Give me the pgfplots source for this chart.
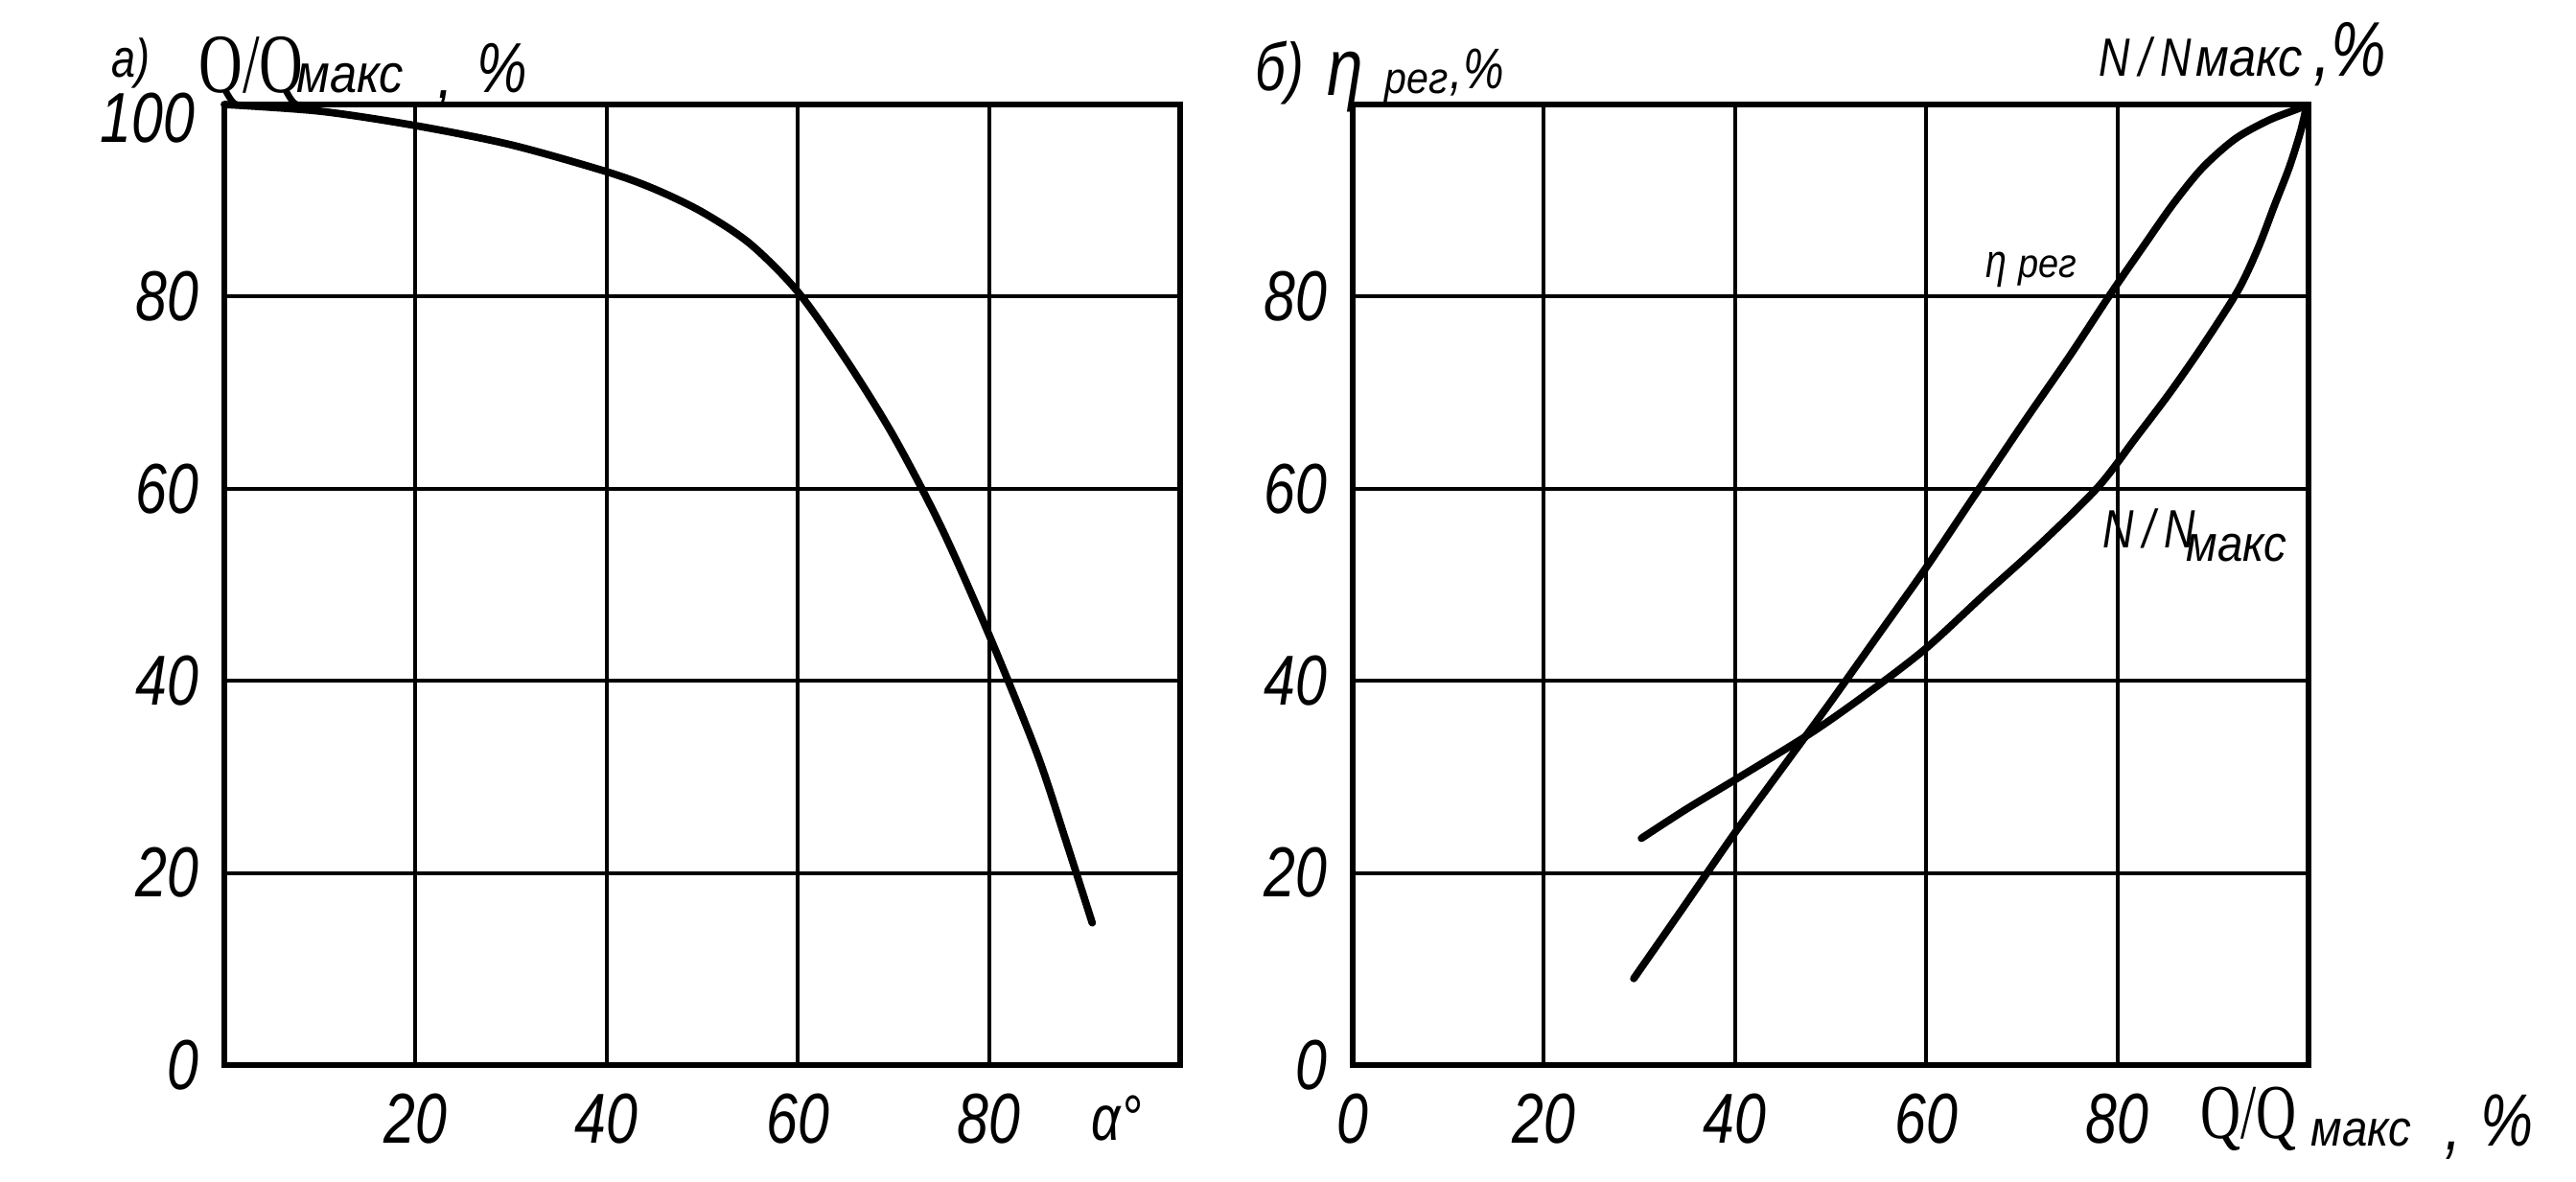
\documentclass[border=0pt]{standalone}
\usepackage{fontspec}
\setmainfont{Liberation Sans}
\newfontfamily\hand[FakeStretch=0.8]{Liberation Sans}
\newfontfamily\handw[FakeStretch=0.9]{Liberation Sans}
\newfontfamily\serifQ[FakeStretch=0.72]{Liberation Serif}
\usepackage{pgfplots}
\pgfplotsset{compat=1.18}
\newcommand\hf[1]{\hand\itshape\fontsize{#1}{#1}\selectfont}
\newcommand\hw[1]{\handw\itshape\fontsize{#1}{#1}\selectfont}
\newcommand\sq[1]{\serifQ\fontsize{#1}{#1}\selectfont}

\pgfplotstableread{
x y
0 100
10 99.3
20 97.8
30 95.8
40 93.0
45 91.2
50 88.8
55 85.5
60 80.5
65 73.5
70 65.5
75 56
80 44.8
85 32.5
88 23.5
90.8 14.8
}\tabQ

\pgfplotstableread{
x y
29.4 9
35 17
40 24.2
45 31
50 37.8
55 44.8
60 51.8
65 59.2
70 66.6
75 73.8
79.3 80.3
82.7 85.2
85.8 89.6
88.9 93.4
92.3 96.4
95.7 98.3
98.5 99.4
99.8 99.9
}\tabEta

\pgfplotstableread{
x y
30.2 23.6
35 26.7
40.5 30.0
48 34.6
54 38.8
60 43.4
66 48.9
72 54.3
78 60.2
82 65.4
85.5 70.0
89 75.0
92.6 80.6
94.7 85
96.4 89.4
98 93.5
99.2 97.3
99.8 99.9
}\tabN

\pgfplotsset{
  panel/.style={
    scale only axis, width=9.97cm, height=10.02cm,
    xmin=0, xmax=100, ymin=0, ymax=100,
    grid=major, major grid style={black, line width=1.1pt},
    axis line style={black, line width=1.6pt},
    major tick length=0pt,
    /pgf/number format/assume math mode=true,
    tick label style={font=\hf{21}, inner sep=0pt},
    xticklabel style={yshift=-0.29cm},
    yticklabel style={xshift=-0.26cm},
    clip=false,
  },
  curve/.style={black, line width=2.2pt, line cap=round, line join=round, smooth, no marks},
}

\begin{document}
\begin{tikzpicture}[x=1cm,y=1cm]
\useasboundingbox (0,0) rectangle (26.87,12.33);

\begin{axis}[panel, at={(2.34cm,1.22cm)}, anchor=south west,
  xtick={20,40,60,80}, ytick={0,20,40,60,80},
  extra y ticks={100},
  extra y tick style={yticklabel style={yshift=-0.14cm, xshift=-0.04cm}}]
\addplot[curve] table[x=x,y=y] {\tabQ};
\end{axis}

\begin{axis}[panel, at={(14.11cm,1.22cm)}, anchor=south west,
  xtick={0,20,40,60,80}, ytick={0,20,40,60,80}]
\addplot[curve] table[x=x,y=y] {\tabEta};
\addplot[curve] table[x=x,y=y] {\tabN};
\end{axis}

% left header
\node[anchor=base west, inner sep=0pt] at (1.16,11.52) {\hf{16}а)};
\node[anchor=base west, inner sep=0pt] at (2.07,11.36) {\sq{25}Q/Q};
\node[anchor=base west, inner sep=0pt] at (3.09,11.36) {\hw{16}макс};
\node[anchor=base west, inner sep=0pt] at (4.56,11.30) {\hf{21},};
\node[anchor=base west, inner sep=0pt] at (4.97,11.36) {\hf{21}\%};
% alpha
\node[anchor=base west, inner sep=0pt] at (11.38,0.43) {\hf{19}α°};

% right header
\node[anchor=base west, inner sep=0pt] at (13.09,11.38) {\hf{20}б)};
\node[anchor=base west, inner sep=0pt] at (13.84,11.33) {\hf{24}η};
\node[anchor=base west, inner sep=0pt] at (14.44,11.35) {\hw{13}рег};
\node[anchor=base west, inner sep=0pt] at (15.12,11.40) {\hf{17},\%};
\node[anchor=base west, inner sep=0pt] at (21.89,11.53) {\hf{16}N\,/\,N};
\node[anchor=base west, inner sep=0pt] at (22.90,11.53) {\hw{16}макс};
\node[anchor=base west, inner sep=0pt] at (24.13,11.53) {\hf{23},\%};

% inside labels
\node[anchor=base west, inner sep=0pt] at (20.71,9.43) {\hf{14}η};
\node[anchor=base west, inner sep=0pt] at (21.05,9.43) {\hw{12}рег};
\node[anchor=base west, inner sep=0pt] at (21.93,6.61) {\hf{16}N\,/\,N};
\node[anchor=base west, inner sep=0pt] at (22.80,6.47) {\hw{15}макс};

% bottom right axis label
\node[anchor=base west, inner sep=0pt] at (22.95,0.45) {\sq{23}Q/Q};
\node[anchor=base west, inner sep=0pt] at (24.10,0.37) {\hw{15}макс};
\node[anchor=base west, inner sep=0pt] at (25.50,0.33) {\hf{22},};
\node[anchor=base west, inner sep=0pt] at (25.87,0.37) {\hf{22}\%};
\end{tikzpicture}
\end{document}
